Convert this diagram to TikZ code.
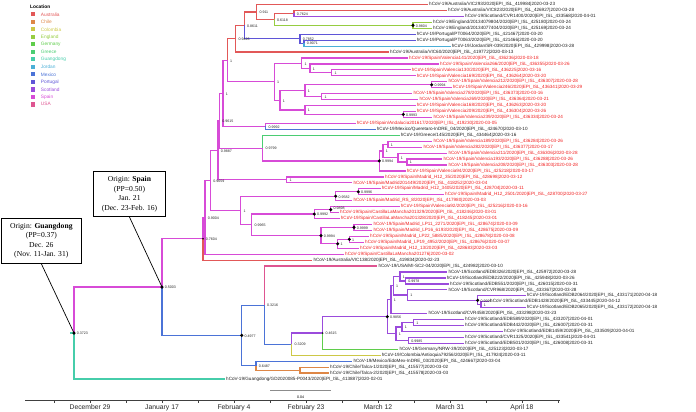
\documentclass[tikz,border=0pt]{standalone}
\usepackage{fontspec}
\setmainfont{Liberation Serif}
\setsansfont{Liberation Sans}
\usetikzlibrary{positioning}

\definecolor{aus}{RGB}{226,88,88}
\definecolor{chile}{RGB}{222,135,70}
\definecolor{colombia}{RGB}{205,200,70}
\definecolor{england}{RGB}{150,205,65}
\definecolor{germany}{RGB}{95,205,75}
\definecolor{greece}{RGB}{75,205,115}
\definecolor{guangdong}{RGB}{70,205,170}
\definecolor{jordan}{RGB}{75,175,215}
\definecolor{mexico}{RGB}{75,115,215}
\definecolor{portugal}{RGB}{95,85,215}
\definecolor{scotland}{RGB}{155,75,220}
\definecolor{spain}{RGB}{215,75,215}
\definecolor{usa}{RGB}{222,85,145}
\definecolor{spaintxt}{RGB}{240,30,30}
\definecolor{tiptxt}{RGB}{30,30,30}

\newcommand{\tipfont}{\sffamily\fontsize{4.6}{5}\selectfont}
\newcommand{\ppfont}{\sffamily\fontsize{3.6}{4}\selectfont}
\newcommand{\boxfont}{\rmfamily\fontsize{7.6}{9.4}\selectfont}
\newcommand{\axisfont}{\sffamily\fontsize{6.8}{8}\selectfont}
\newcommand{\legfont}{\sffamily\fontsize{4.8}{6}\selectfont}

\tikzset{
    branch/.style={line width=1.2pt},
    tiplabel/.style={anchor=west, inner sep=0pt, font=\tipfont},
    pplabel/.style={anchor=west, inner sep=0pt, xshift=2.6pt, yshift=-0.6pt, font=\ppfont, text=black!85},
    ppdot/.style={circle, fill=black, inner sep=0pt, minimum size=3.4pt},
    ppsmall/.style={circle, fill=black, inner sep=0pt, minimum size=1.6pt},
    originbox/.style={draw, line width=0.8pt, fill=white, align=center, inner sep=1pt, minimum height=45pt, font=\boxfont},
    pointer/.style={line width=0.7pt},
    axisline/.style={line width=0.6pt, black!75},
    ticklabel/.style={font=\axisfont, inner sep=0pt, text=black!85},
    legsq/.style={minimum size=4.4pt, inner sep=0pt},
    legtext/.style={anchor=west, inner sep=0pt, font=\legfont}
}

% tip: name, parent, branch colour, x, y, text colour, text
\newcommand{\tip}[7]{%
    \node[tiplabel, text=#6] (#1) at (#4,#5) {#7};
    \draw[branch, #3] (#2) |- ([xshift=-1.2pt]#1.west);}

\begin{document}
\begin{tikzpicture}[x=1pt, y=-1pt]
    \useasboundingbox (0,0) rectangle (696,412);

    % internal nodes
    \coordinate (root) at (74,333.05);
    \coordinate (rootstem) at (70,333.05);
    \coordinate (n5003) at (162,287.05);
    \coordinate (n7604) at (203,238.72);
    \coordinate (n9004) at (205,217.3);
    \coordinate (n9659) at (210.5,180.42);
    \coordinate (n9887) at (218,150.3);
    \coordinate (n9615) at (219.5,120.71);
    \coordinate (ntop) at (223,93.31);
    \coordinate (nx1) at (227.3,60.24);
    \coordinate (n9426) at (235.7,38.69);
    \coordinate (n8611) at (244.3,25.31);
    \coordinate (n0911) at (256.7,11.93);
    \coordinate (n6118) at (274.3,19.37);
    \coordinate (n7624) at (294,13.42);
    \coordinate (neng) at (413,25.31);
    \coordinate (n7852) at (300,38.69);
    \coordinate (n9071) at (304,43.15);
    \coordinate (nv) at (274.3,81.78);
    \coordinate (nva) at (301.7,63.2);
    \coordinate (nvb) at (310,68.41);
    \coordinate (nvc) at (331.7,72.87);
    \coordinate (nw) at (280,100.37);
    \coordinate (nw1) at (305,90.7);
    \coordinate (nwd) at (431.7,84.76);
    \coordinate (nw1b) at (321.7,96.65);
    \coordinate (nw2) at (305,110.03);
    \coordinate (nw2d) at (403.3,114.49);
    \coordinate (nam) at (265.7,126.38);
    \coordinate (ng) at (262.7,148.11);
    \coordinate (ngd) at (379.3,160.93);
    \coordinate (ngx) at (383,150.9);
    \coordinate (ngy) at (388,144.21);
    \coordinate (ngz) at (398,157.59);
    \coordinate (ngw) at (407,162.05);
    \coordinate (nm1) at (286.7,179.88);
    \coordinate (nbm) at (240.7,210.53);
    \coordinate (n9582) at (335.7,196.23);
    \coordinate (n9996) at (358.3,191.77);
    \coordinate (n9965) at (251.7,224.84);
    \coordinate (n9992) at (314.3,214.06);
    \coordinate (n9898) at (330.7,209.6);
    \coordinate (n9994) at (321,235.62);
    \coordinate (n9999) at (354,227.44);
    \coordinate (nlpa) at (337.7,243.79);
    \coordinate (nlpb) at (349.3,239.33);
    \coordinate (n4977) at (241.7,335.38);
    \coordinate (n3216) at (264.3,305.11);
    \coordinate (n3209) at (291.7,344.14);
    \coordinate (n4615) at (322.7,333.01);
    \coordinate (n9856) at (387.3,316.71);
    \coordinate (nsf) at (391,299.71);
    \coordinate (nse) at (393.3,285.78);
    \coordinate (nsa) at (400,276.49);
    \coordinate (n9978) at (405.5,280.95);
    \coordinate (nsc) at (407.5,295.06);
    \coordinate (nsd9996) at (477.7,300.27);
    \coordinate (nsd) at (481,304.73);
    \coordinate (nsj) at (396,333.71);
    \coordinate (nsh) at (402,327.02);
    \coordinate (nsg) at (413.5,322.56);
    \coordinate (n9985) at (408.5,340.4);
    \coordinate (n6487) at (256,365.66);
    \coordinate (nchile) at (300,370.12);

    % inner branches
    \draw[branch, guangdong] (rootstem) -- (root);
    \draw[branch, spain] (root) |- (n5003);
    \draw[branch, spain] (n5003) |- (n7604);
    \draw[branch, spain] (n7604) |- (n9004);
    \draw[branch, spain] (n9004) |- (n9659);
    \draw[branch, spain] (n9659) |- (n9887);
    \draw[branch, spain] (n9887) |- (n9615);
    \draw[branch, spain] (n9615) |- (ntop);
    \draw[branch, spain] (ntop) |- (nx1);
    \draw[branch, aus] (nx1) |- (n9426);
    \draw[branch, aus] (n9426) |- (n8611);
    \draw[branch, aus] (n8611) |- (n0911);
    \draw[branch, aus] (n0911) |- (n6118);
    \draw[branch, aus] (n6118) |- (n7624);
    \draw[branch, england] (n6118) |- (neng);
    \draw[branch, portugal] (n8611) |- (n7852);
    \draw[branch, portugal] (n7852) |- (n9071);
    \foreach \p/\c in {nx1/nv, nv/nva, nva/nvb, nvb/nvc, nv/nw, nw/nw1, nw1/nwd, nw1/nw1b, nw/nw2, nw2/nw2d,
        ntop/nam, n9615/ng, ng/ngd, ngd/ngx, ngx/ngy, ngx/ngz, ngz/ngw, n9887/nm1, n9659/nbm,
        nbm/n9582, n9582/n9996, nbm/n9965, n9965/n9992, n9992/n9898, n9965/n9994, n9994/n9999, n9994/nlpa, nlpa/nlpb}
        \draw[branch, spain] (\p) |- (\c);
    \draw[branch, mexico] (n5003) |- (n4977);
    \draw[branch, mexico] (n4977) |- (n3216);
    \draw[branch, mexico] (n3216) |- (n3209);
    \draw[branch, mexico] (n4977) |- (n6487);
    \draw[branch, chile] (n6487) |- (nchile);
    \foreach \p/\c in {n3209/n4615, n4615/n9856, n9856/nsf, nsf/nse, nse/nsa, nsa/n9978, nse/nsc, nsc/nsd9996, nsd9996/nsd,
        n9856/nsj, nsj/nsh, nsh/nsg, nsj/n9985}
        \draw[branch, scotland] (\p) |- (\c);

    % tips
    \tip{t01}{n0911}{aus}{429}{4.5}{tiptxt}{hCoV-19/Australia/VIC293/2020|EPI\_ISL\_419984|2020-03-23}
    \tip{t02}{n7624}{aus}{448}{10.45}{tiptxt}{hCoV-19/Australia/VIC823/2020|EPI\_ISL\_426927|2020-03-28}
    \tip{t03}{n7624}{scotland}{465}{16.39}{tiptxt}{hCoV-19/Scotland/CVR1400/2020|EPI\_ISL\_433568|2020-04-01}
    \tip{t04}{neng}{england}{433}{22.34}{tiptxt}{hCoV-19/England/20134079804/2020|EPI\_ISL\_425180|2020-03-24}
    \tip{t05}{neng}{england}{433}{28.28}{tiptxt}{hCoV-19/England/20134077404/2020|EPI\_ISL\_425169|2020-03-24}
    \tip{t06}{n7852}{portugal}{416.7}{34.23}{tiptxt}{hCoV-19/Portugal/PT0064/2020|EPI\_ISL\_421467|2020-03-20}
    \tip{t07}{n9071}{portugal}{416.7}{40.17}{tiptxt}{hCoV-19/Portugal/PT0063/2020|EPI\_ISL\_421466|2020-03-20}
    \tip{t08}{n9071}{jordan}{451.7}{46.12}{tiptxt}{hCoV-19/Jordan/SR-039/2020|EPI\_ISL\_429998|2020-03-28}
    \tip{t09}{n9426}{aus}{390}{52.06}{tiptxt}{hCoV-19/Australia/VIC60/2020|EPI\_ISL\_419772|2020-03-13}
    \tip{t10}{nva}{spain}{409}{58.0}{spaintxt}{hCoV-19/Spain/Valencia141/2020|EPI\_ISL\_436236|2020-03-18}
    \tip{t11}{nvb}{spain}{440}{63.95}{spaintxt}{hCoV-19/Spain/Valencia266/2020|EPI\_ISL\_436355|2020-03-26}
    \tip{t12}{nvc}{spain}{411.7}{69.9}{spaintxt}{hCoV-19/Spain/Valencia130/2020|EPI\_ISL\_436225|2020-03-16}
    \tip{t13}{nvc}{spain}{416.7}{75.84}{spaintxt}{hCoV-19/Spain/Valencia169/2020|EPI\_ISL\_436264|2020-03-20}
    \tip{t14}{nwd}{spain}{448.3}{81.79}{spaintxt}{hCoV-19/Spain/Valencia212/2020|EPI\_ISL\_436307|2020-03-28}
    \tip{t15}{nwd}{spain}{452.7}{87.73}{spaintxt}{hCoV-19/Spain/Valencia246/2020|EPI\_ISL\_436341|2020-03-29}
    \tip{t16}{nw1b}{spain}{413.3}{93.68}{spaintxt}{hCoV-19/Spain/Valencia278/2020|EPI\_ISL\_436373|2020-03-16}
    \tip{t17}{nw1b}{spain}{419.3}{99.62}{spaintxt}{hCoV-19/Spain/Valencia269/2020|EPI\_ISL\_436364|2020-03-21}
    \tip{t18}{nw2}{spain}{416.7}{105.57}{spaintxt}{hCoV-19/Spain/Valencia168/2020|EPI\_ISL\_436263|2020-03-20}
    \tip{t19}{nw2d}{spain}{416.7}{111.51}{spaintxt}{hCoV-19/Spain/Valencia209/2020|EPI\_ISL\_436304|2020-03-26}
    \tip{t20}{nw2d}{spain}{433.3}{117.46}{spaintxt}{hCoV-19/Spain/Valencia239/2020|EPI\_ISL\_436334|2020-03-24}
    \tip{t21}{nam}{spain}{356.7}{123.4}{spaintxt}{hCoV-19/Spain/Andalucia201617/2020|EPI\_ISL\_419230|2020-03-05}
    \tip{t22}{nam}{mexico}{376.7}{129.35}{tiptxt}{hCoV-19/Mexico/Queretaro-InDRE\_04/2020|EPI\_ISL\_424670|2020-03-10}
    \tip{t23}{ng}{greece}{400.7}{135.29}{tiptxt}{hCoV-19/Greece/145/2020|EPI\_ISL\_434464|2020-03-16}
    \tip{t24}{ngy}{spain}{433.3}{141.24}{spaintxt}{hCoV-19/Spain/Valencia189/2020|EPI\_ISL\_436284|2020-03-26}
    \tip{t25}{ngy}{spain}{423.3}{147.18}{spaintxt}{hCoV-19/Spain/Valencia282/2020|EPI\_ISL\_436377|2020-03-17}
    \tip{t26}{ngz}{spain}{448.3}{153.13}{spaintxt}{hCoV-19/Spain/Valencia211/2020|EPI\_ISL\_436306|2020-03-28}
    \tip{t27}{ngw}{spain}{443.3}{159.07}{spaintxt}{hCoV-19/Spain/Valencia193/2020|EPI\_ISL\_436288|2020-03-26}
    \tip{t28}{ngw}{spain}{448.3}{165.02}{spaintxt}{hCoV-19/Spain/Valencia208/2020|EPI\_ISL\_436303|2020-03-28}
    \tip{t29}{ngd}{spain}{406.7}{170.96}{spaintxt}{hCoV-19/Spain/Valencia94/2020|EPI\_ISL\_425218|2020-03-17}
    \tip{t30}{nm1}{spain}{385}{176.91}{spaintxt}{hCoV-19/Spain/Madrid\_H12\_35/2020|EPI\_ISL\_428698|2020-03-12}
    \tip{t31}{nm1}{spain}{353.3}{182.85}{spaintxt}{hCoV-19/Spain/Madrid201449/2020|EPI\_ISL\_418252|2020-03-04}
    \tip{t32}{n9996}{spain}{381.7}{188.8}{spaintxt}{hCoV-19/Spain/Madrid\_H12\_3405/2020|EPI\_ISL\_428704|2020-03-11}
    \tip{t33}{n9996}{spain}{445}{194.74}{spaintxt}{hCoV-19/Spain/Madrid\_H12\_2501/2020|EPI\_ISL\_428700|2020-03-27}
    \tip{t34}{n9582}{spain}{353.3}{200.69}{spaintxt}{hCoV-19/Spain/Madrid\_RS\_8/2020|EPI\_ISL\_417980|2020-03-03}
    \tip{t35}{n9898}{spain}{400.7}{206.63}{spaintxt}{hCoV-19/Spain/Valencia92/2020|EPI\_ISL\_425216|2020-03-16}
    \tip{t36}{n9898}{spain}{340}{212.58}{spaintxt}{hCoV-19/Spain/CastillaLaMancha201329/2020|EPI\_ISL\_418246|2020-03-01}
    \tip{t37}{n9992}{spain}{340.7}{218.52}{spaintxt}{hCoV-19/Spain/CastillaLaMancha201328/2020|EPI\_ISL\_418245|2020-03-01}
    \tip{t38}{n9999}{spain}{373.3}{224.47}{spaintxt}{hCoV-19/Spain/Madrid\_LP11\_2271/2020|EPI\_ISL\_428674|2020-03-09}
    \tip{t39}{n9999}{spain}{373.3}{230.41}{spaintxt}{hCoV-19/Spain/Madrid\_LP16\_6193/2020|EPI\_ISL\_428675|2020-03-09}
    \tip{t40}{nlpb}{spain}{370}{236.36}{spaintxt}{hCoV-19/Spain/Madrid\_LP22\_5885/2020|EPI\_ISL\_428678|2020-03-08}
    \tip{t41}{nlpb}{spain}{365}{242.3}{spaintxt}{hCoV-19/Spain/Madrid\_LP19\_4952/2020|EPI\_ISL\_428676|2020-03-07}
    \tip{t42}{nlpa}{spain}{360}{248.25}{spaintxt}{hCoV-19/Spain/Madrid\_H12\_13/2020|EPI\_ISL\_428683|2020-03-03}
    \tip{t43}{n9004}{spain}{345}{254.19}{spaintxt}{hCoV-19/Spain/CastillaLaMancha201276|2020-03-02}
    \tip{t44}{n7604}{aus}{313.3}{260.14}{tiptxt}{hCoV-19/Australia/VIC138/2020|EPI\_ISL\_419834|2020-02-23}
    \tip{t45}{n3216}{usa}{378.3}{266.08}{tiptxt}{hCoV-19/USA/MI-SC2-04/2020|EPI\_ISL\_424982|2020-03-10}
    \tip{t46}{nsa}{scotland}{448.3}{272.03}{tiptxt}{hCoV-19/Scotland/EDB326/2020|EPI\_ISL\_425972|2020-03-28}
    \tip{t47}{n9978}{scotland}{446.7}{277.97}{tiptxt}{hCoV-19/Scotland/EDB222/2020|EPI\_ISL\_425948|2020-03-26}
    \tip{t48}{n9978}{scotland}{450}{283.92}{tiptxt}{hCoV-19/Scotland/EDB551/2020|EPI\_ISL\_426015|2020-03-31}
    \tip{t49}{nsc}{scotland}{448.3}{289.86}{tiptxt}{hCoV-19/Scotland/CVR968/2020|EPI\_ISL\_433367|2020-03-28}
    \tip{t50}{nsd9996}{scotland}{526.7}{295.81}{tiptxt}{hCoV-19/Scotland/EDB2064/2020|EPI\_ISL\_433171|2020-04-18}
    \tip{t51}{nsd}{scotland}{490}{301.75}{tiptxt}{hCoV-19/Scotland/EDB1428/2020|EPI\_ISL\_433445|2020-04-12}
    \tip{t52}{nsd}{scotland}{526.7}{307.7}{tiptxt}{hCoV-19/Scotland/EDB2065/2020|EPI\_ISL\_433172|2020-04-18}
    \tip{t53}{nsf}{scotland}{428.3}{313.64}{tiptxt}{hCoV-19/Scotland/CVR458/2020|EPI\_ISL\_433298|2020-03-23}
    \tip{t54}{nsg}{scotland}{465}{319.59}{tiptxt}{hCoV-19/Scotland/EDB589/2020|EPI\_ISL\_433207|2020-04-01}
    \tip{t55}{nsg}{scotland}{465}{325.53}{tiptxt}{hCoV-19/Scotland/EDB442/2020|EPI\_ISL\_426007|2020-03-31}
    \tip{t56}{nsh}{scotland}{504}{331.48}{tiptxt}{hCoV-19/Scotland/EDB1459/2020|EPI\_ISL\_433509|2020-04-01}
    \tip{t57}{n9985}{scotland}{465}{337.42}{tiptxt}{hCoV-19/Scotland/CVR1325/2020|EPI\_ISL\_433541|2020-04-01}
    \tip{t58}{n9985}{scotland}{465}{343.37}{tiptxt}{hCoV-19/Scotland/EDB501/2020|EPI\_ISL\_426008|2020-03-31}
    \tip{t59}{n4615}{germany}{399.3}{349.31}{tiptxt}{hCoV-19/Germany/NRW-39/2020|EPI\_ISL\_425123|2020-03-17}
    \tip{t60}{n3209}{colombia}{381.7}{355.26}{tiptxt}{hCoV-19/Colombia/Antioquia79256/2020|EPI\_ISL\_417924|2020-03-11}
    \tip{t61}{n6487}{mexico}{353.3}{361.2}{tiptxt}{hCoV-19/Mexico/EdoMex-InDRE\_03/2020|EPI\_ISL\_424667|2020-03-04}
    \tip{t62}{nchile}{chile}{330}{367.15}{tiptxt}{hCoV-19/Chile/Talca-1/2020|EPI\_ISL\_415577|2020-03-02}
    \tip{t63}{nchile}{chile}{330}{373.09}{tiptxt}{hCoV-19/Chile/Talca-2/2020|EPI\_ISL\_415578|2020-03-03}
    \tip{t64}{root}{guangdong}{226}{379.04}{tiptxt}{hCoV-19/Guangdong/GD2020085-P0043/2020|EPI\_ISL\_413887|2020-02-01}

    % dots and posterior labels
    \foreach \n in {root, n5003, n4977, neng, nwd, nw2d, ngd, n9582, n9996, n9898, n9992, n9999, n9994, nlpa, nlpb, n9856, nsd9996}
        \node[ppdot] (\n-dot) at (\n) {};
    \foreach \n in {n7604, n4615}
        \node[ppsmall] (\n-dot) at (\n) {};
    \foreach \n/\l in {root/0.3723, n5003/0.5003, n7604/0.7604, n9004/0.9004, n9659/0.9659, n9887/0.9887, n9615/0.9615,
        ntop/1, nx1/1, n9426/0.9426, n8611/0.8611, n0911/0.911, n6118/0.6118, n7624/0.7624, neng/0.9804, n7852/0.7852,
        n9071/0.9071, nv/1, nva/1, nvb/1, nvc/1, nw/1, nw1/1, nwd/0.9994, nw1b/1, nw2/1, nw2d/0.9993, nam/0.9992,
        ng/0.9799, ngd/0.9994, ngx/1, ngy/1, ngz/1, ngw/1, nm1/1, nbm/1, n9582/0.9582, n9996/0.9996, n9965/0.9965,
        n9992/0.9992, n9994/0.9994, n9999/0.9999, nlpa/1, nlpb/1, n4977/0.4977, n3216/0.3216,
        n3209/0.3209, n4615/0.4615, n9856/0.9856, nsf/1, nse/1, nsa/1, n9978/0.9978, nsc/1, nsd9996/0.9996, nsd/1,
        nsj/1, nsh/1, nsg/1, n9985/0.9985, n6487/0.6487}
        \node[pplabel] (\n-pp) at (\n) {\l};
    \node[pplabel, yshift=2.4pt] (n9898-pp) at (n9898) {0.9898};

    % origin boxes
    \node[originbox, minimum width=79.3pt] (gdbox) at (41.3,240.8) {Origin: \textbf{Guangdong}\\(PP=0.37)\\Dec. 26\\(Nov. 11-Jan. 31)};
    \node[originbox, minimum width=72.4pt] (spbox) at (129.5,194.2) {Origin: \textbf{Spain}\\(PP=0.50)\\Jan. 21\\(Dec. 23-Feb. 16)};
    \draw[pointer] (gdbox.south) -- (root);
    \draw[pointer] (spbox.south) -- (n5003);

    % scale bar
    \coordinate (sbl) at (270,390.7);
    \coordinate (sbr) at (331,390.7);
    \draw[line width=0.9pt, black!45] (sbl) -- node[below=1.5pt, font=\ppfont, text=black] (sbtext) {0.04} (sbr);

    % time axis
    \coordinate (axl) at (25,400);
    \coordinate (axr) at (560,400);
    \draw[axisline] (axl) -- (axr);
    \foreach \k in {0,...,14}
        \draw[axisline] ({54+36*\k},400) -- ++(0,2.5);
    \foreach \x/\t in {90/December 29, 162/January 17, 234/February 4, 306/February 23, 378/March 12, 450/March 31, 522/April 18}
        \node[ticklabel] (tick\x) at (\x,407.5) {\t};

    % legend
    \node[legtext, font=\sffamily\bfseries\fontsize{4.8}{6}\selectfont] (legtitle) at (30,6.7) {Location};
    \foreach \c/\t [count=\i] in {aus/Australia, chile/Chile, colombia/Colombia, england/England, germany/Germany,
        greece/Greece, guangdong/Guangdong, jordan/Jordan, mexico/Mexico, portugal/Portugal, scotland/Scotland,
        spain/Spain, usa/USA} {
        \node[legsq, fill=\c] (leg\i) at (32.8,{6.8+7.5*\i}) {};
        \node[legtext, text=\c] (legt\i) at (40.7,{6.8+7.5*\i}) {\t};
    }
\end{tikzpicture}
\end{document}
